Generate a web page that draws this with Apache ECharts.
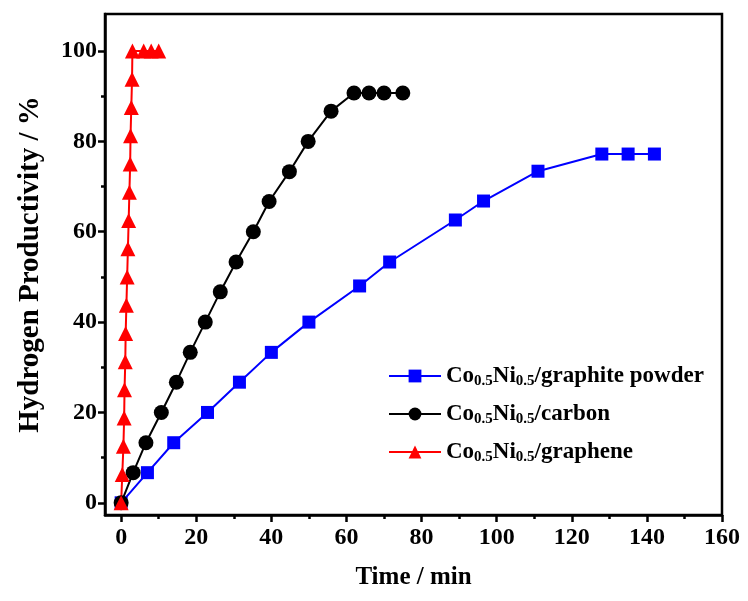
<!DOCTYPE html>
<html>
<head>
<meta charset="utf-8">
<script src="https://cdn.jsdelivr.net/npm/echarts@6/dist/echarts.min.js"></script>
<style>
  html, body { margin: 0; padding: 0; background: #fff; }
  #chart { width: 748px; height: 601px; }
</style>
</head>
<body>
<div id="chart"></div>
<script>
// Co0.5Ni0.5/graphite powder
var graphiteX = [0, 7, 14, 23, 31.5, 40, 50, 63.5, 71.5, 89, 96.5, 111, 128, 135, 142];
var graphiteY = [0, 6.67, 13.3, 20, 26.7, 33.3, 40, 48, 53.3, 62.6, 66.8, 73.4, 77.2, 77.2, 77.2];
// Co0.5Ni0.5/carbon
var carbonX = [0, 3.2, 6.6, 10.7, 14.7, 18.4, 22.4, 26.4, 30.6, 35.2, 39.4, 44.8, 49.8, 55.9, 62, 66, 70, 75];
var carbonY = [0, 6.67, 13.3, 20, 26.7, 33.3, 40, 46.7, 53.3, 60, 66.7, 73.3, 80, 86.7, 90.7, 90.7, 90.7, 90.7];
// Co0.5Ni0.5/graphene
var grapheneX = [0, 0.3, 0.6, 0.8, 0.9, 1.1, 1.2, 1.4, 1.6, 1.8, 2.0, 2.2, 2.4, 2.5, 2.7, 2.9, 3, 6, 8, 10];
var grapheneY = [0, 6.25, 12.5, 18.75, 25, 31.25, 37.5, 43.75, 50, 56.25, 62.5, 68.75, 75, 81.25, 87.5, 93.75, 100, 100, 100, 100];

var seriesNames = ['graphite powder', 'carbon', 'graphene'];
var xMajor = [0, 20, 40, 60, 80, 100, 120, 140, 160];
var xMinor = [10, 30, 50, 70, 90, 110, 130, 150];
var yMajor = [0, 20, 40, 60, 80, 100];
var yMinor = [10, 30, 50, 70, 90];

var font = '"Liberation Serif", "Times New Roman", serif';

function pairs(xs, ys) {
    var ret = [];
    for (var i = 0; i < xs.length; i++) {
        ret.push([xs[i], ys[i]]);
    }
    return ret;
}

var myChart = echarts.init(document.getElementById('chart'));

function textStyle(size) {
    return {
        color: '#000',
        fontSize: size,
        fontWeight: 'bold',
        fontFamily: font
    };
}

option = {
    animation: false,
    grid: {
        left: 105,
        right: 26,
        top: 14,
        bottom: 86,
        show: true,
        borderColor: '#000',
        borderWidth: 2.5
    },
    legend: {
        orient: 'vertical',
        left: 388,
        top: 353,
        padding: 0,
        itemWidth: 52,
        itemHeight: 16,
        itemGap: 2,
        data: seriesNames,
        formatter: function (name) {
            return '{m|Co}{s|0.5}{m|Ni}{s|0.5}{m|/' + name + '}';
        },
        textStyle: {
            rich: {
                m: { fontSize: 23, fontWeight: 'bold', fontFamily: font, color: '#000', lineHeight: 26 },
                s: { fontSize: 15, fontWeight: 'bold', fontFamily: font, color: '#000', lineHeight: 15, padding: [21, 0, 0, 0], verticalAlign: 'bottom' }
            }
        }
    },
    xAxis: [{
        type: 'value',
        min: -4.3,
        max: 160,
        name: 'Time / min',
        nameLocation: 'middle',
        nameGap: 50,
        nameTextStyle: textStyle(25),
        axisLine: { onZero: false, lineStyle: { color: '#000', width: 2.5 } },
        axisTick: { customValues: xMajor, length: 7, lineStyle: { color: '#000', width: 2.5 } },
        axisLabel: Object.assign({ customValues: xMajor, margin: 11 }, textStyle(24)),
        splitLine: { show: false }
    }, {
        type: 'value',
        min: -4.3,
        max: 160,
        position: 'bottom',
        axisLine: { show: false, onZero: false },
        axisTick: { customValues: xMinor, length: 4, lineStyle: { color: '#000', width: 2.5 } },
        axisLabel: { show: false },
        splitLine: { show: false }
    }],
    yAxis: [{
        type: 'value',
        min: -2.7,
        max: 108.2,
        name: 'Hydrogen Productivity / %',
        nameLocation: 'middle',
        nameGap: 60,
        nameTextStyle: textStyle(29),
        axisLine: { onZero: false, lineStyle: { color: '#000', width: 2.5 } },
        axisTick: { customValues: yMajor, length: 7, lineStyle: { color: '#000', width: 2.5 } },
        axisLabel: Object.assign({ customValues: yMajor, margin: 8 }, textStyle(24)),
        splitLine: { show: false }
    }, {
        type: 'value',
        min: -2.7,
        max: 108.2,
        position: 'left',
        axisLine: { show: false, onZero: false },
        axisTick: { customValues: yMinor, length: 4, lineStyle: { color: '#000', width: 2.5 } },
        axisLabel: { show: false },
        splitLine: { show: false }
    }],
    series: [{
        name: seriesNames[0],
        type: 'line',
        data: pairs(graphiteX, graphiteY),
        symbol: 'rect',
        symbolSize: 13,
        itemStyle: { color: '#0000ff' },
        lineStyle: { color: '#0000ff', width: 2 }
    }, {
        name: seriesNames[1],
        type: 'line',
        data: pairs(carbonX, carbonY),
        symbol: 'circle',
        symbolSize: 15,
        itemStyle: { color: '#000' },
        lineStyle: { color: '#000', width: 2 }
    }, {
        name: seriesNames[2],
        type: 'line',
        data: pairs(grapheneX, grapheneY),
        symbol: 'triangle',
        symbolSize: 15,
        itemStyle: { color: '#ff0000' },
        lineStyle: { color: '#ff0000', width: 2 }
    }]
};

myChart.setOption(option);
window.addEventListener("resize", function() {
    myChart.resize();
});
</script>
</body>
</html>
